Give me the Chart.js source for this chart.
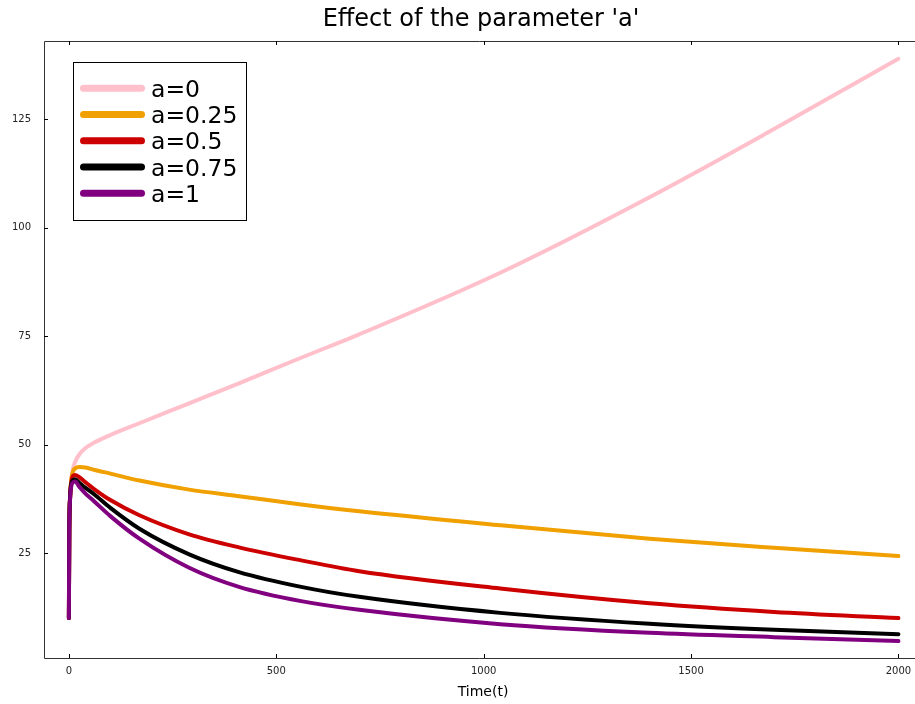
<!DOCTYPE html>
<html>
<head>
<meta charset="utf-8">
<script src="https://cdn.jsdelivr.net/npm/chart.js@4"></script>
<style>
  html, body { margin: 0; padding: 0; background: #fff; }
  canvas { display: block; }
</style>
</head>
<body>
<canvas id="c" width="915" height="704"></canvas>
<script>
// time points shared by every series
const times = [0, 1, 3, 6, 10, 15, 25, 40, 60, 100, 170, 290, 410, 560, 700, 1040, 1400, 1700, 2000];

const labels = ['a=0', 'a=0.25', 'a=0.5', 'a=0.75', 'a=1'];
const colors = ['#FFC0CB', '#F0A000', '#CD0000', '#000000', '#800080'];

const a0   = [10, 30, 38, 42, 44.5, 46, 47.7, 49.2, 50.4, 52.2, 54.9, 59.5, 64.1, 70.0, 75.4, 89.6, 107.0, 122.7, 138.9];
const a025 = [10, 30, 38, 42, 43.8, 44.5, 44.8, 44.7, 44.2, 43.3, 41.7, 39.6, 38.1, 36.2, 34.6, 31.4, 28.3, 26.2, 24.3];
const a05  = [10, 30, 38, 41.5, 42.8, 43, 42.5, 41.3, 39.8, 37.2, 33.7, 29.3, 26.3, 23.3, 20.8, 16.8, 13.4, 11.4, 10.0];
const a075 = [10, 30, 38, 41, 41.8, 42, 41.2, 40.0, 38.6, 35.4, 30.6, 24.7, 20.6, 17.2, 14.9, 11.2, 8.7, 7.3, 6.3];
const a1   = [10, 30, 37.5, 40.5, 41.3, 41.5, 40.3, 38.7, 37.0, 33.5, 28.3, 21.6, 17.2, 13.9, 11.9, 8.6, 6.6, 5.6, 4.7];
const series = [a0, a025, a05, a075, a1];

const xTicks = [0, 500, 1000, 1500, 2000];
const yTicks = [25, 50, 75, 100, 125];

const FONT = "'DejaVu Sans', sans-serif";

// frame, inward ticks, title, axis label and the legend box
const decor = {
  id: 'decor',
  afterDraw(chart) {
    const { ctx, chartArea: a, scales } = chart;
    ctx.save();
    ctx.strokeStyle = '#333';
    ctx.lineWidth = 1;
    ctx.beginPath();
    ctx.moveTo(a.right, a.top + 0.5); ctx.lineTo(a.left + 0.5, a.top + 0.5);
    ctx.lineTo(a.left + 0.5, a.bottom + 0.5); ctx.lineTo(a.right, a.bottom + 0.5);
    ctx.stroke();

    ctx.strokeStyle = '#000';
    ctx.beginPath();
    xTicks.forEach(v => {
      const x = Math.round(scales.x.getPixelForValue(v)) + 0.5;
      ctx.moveTo(x, a.bottom); ctx.lineTo(x, a.bottom - 4);
      ctx.moveTo(x, a.top); ctx.lineTo(x, a.top + 4);
    });
    yTicks.forEach(v => {
      const y = Math.round(scales.y.getPixelForValue(v)) + 0.5;
      ctx.moveTo(a.left, y); ctx.lineTo(a.left + 4, y);
    });
    ctx.stroke();

    ctx.fillStyle = '#000';
    ctx.textAlign = 'center';
    ctx.textBaseline = 'middle';
    ctx.font = '24px ' + FONT;
    ctx.fillText("Effect of the parameter 'a'", 481, 20);
    ctx.font = '14px ' + FONT;
    ctx.fillText('Time(t)', 483, 692);

    // legend
    ctx.fillStyle = '#fff';
    ctx.fillRect(73.5, 62.5, 173, 158);
    ctx.strokeStyle = '#000';
    ctx.lineWidth = 1;
    ctx.strokeRect(73.5, 62.5, 173, 158);
    ctx.lineCap = 'round';
    ctx.lineWidth = 7;
    ctx.font = '23.5px ' + FONT;
    ctx.textAlign = 'left';
    ctx.textBaseline = 'alphabetic';
    labels.forEach((lab, i) => {
      const y = 88.3 + i * 26.25;
      ctx.strokeStyle = colors[i];
      ctx.beginPath(); ctx.moveTo(83.5, y); ctx.lineTo(141.5, y); ctx.stroke();
      ctx.fillStyle = '#000';
      ctx.fillText(lab, 151, y + 8.5);
    });
    ctx.restore();
  }
};

new Chart(document.getElementById('c'), {
  type: 'line',
  data: {
    datasets: series.map((vals, i) => ({
      label: labels[i],
      data: times.map((t, k) => ({ x: t, y: vals[k] })),
      borderColor: colors[i],
      backgroundColor: colors[i],
      borderWidth: 4,
      pointRadius: 0,
      cubicInterpolationMode: 'monotone',
      borderCapStyle: 'round',
      order: series.length - i
    }))
  },
  options: {
    responsive: false,
    animation: false,
    layout: { padding: { top: 41, right: 0, left: 0, bottom: 0 } },
    plugins: { legend: { display: false }, tooltip: { enabled: false } },
    scales: {
      x: {
        type: 'linear',
        min: -60,
        max: 2040,
        afterFit: s => { s.height = 46; s.paddingLeft = 0; s.paddingRight = 0; },
        afterBuildTicks: s => { s.ticks = xTicks.map(v => ({ value: v })); },
        grid: { display: false, drawTicks: false },
        border: { display: false },
        ticks: { padding: 7, color: '#222', font: { family: FONT, size: 10 }, maxRotation: 0,
                 callback: v => String(v) }
      },
      y: {
        min: 0.8,
        max: 143,
        afterFit: s => { s.width = 44; },
        afterBuildTicks: s => { s.ticks = yTicks.map(v => ({ value: v })); },
        grid: { display: false, drawTicks: false },
        border: { display: false },
        ticks: { padding: 13, color: '#222', font: { family: FONT, size: 10 },
                 callback: v => String(v) }
      }
    }
  },
  plugins: [decor]
});
</script>
</body>
</html>
